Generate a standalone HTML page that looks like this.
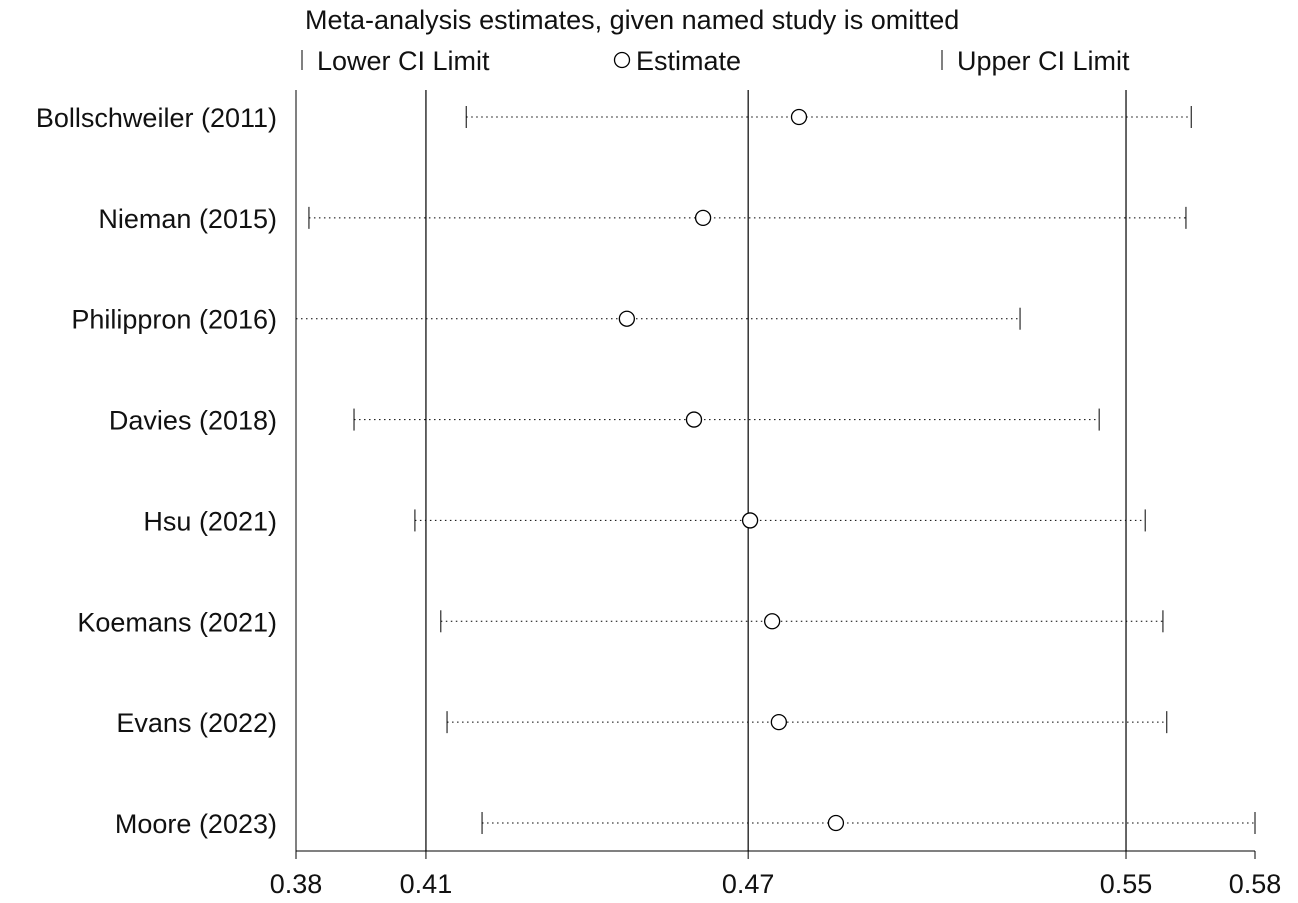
<!DOCTYPE html>
<html><head><meta charset="utf-8"><style>
body{margin:0;background:#fff}
svg text{font-family:"Liberation Sans",Arial,sans-serif;fill:#111}
</style></head><body>
<svg id="chart" width="1298" height="898" xmlns="http://www.w3.org/2000/svg">
<text x="305" y="29" font-size="27">Meta-analysis estimates, given named study is omitted</text>
<g>
<line x1="302" y1="50" x2="302" y2="70" stroke="#000" stroke-width="1"/>
<text x="317" y="70" font-size="27">Lower CI Limit</text>
<circle cx="622" cy="60" r="7.5" fill="none" stroke="#000" stroke-width="1.3"/>
<text x="636" y="70" font-size="27">Estimate</text>
<line x1="942" y1="50" x2="942" y2="70" stroke="#000" stroke-width="1"/>
<text x="957" y="70" font-size="27">Upper CI Limit</text>
</g>
<g id="plot"></g>
</svg>
<script>
const studies=["Bollschweiler (2011)","Nieman (2015)","Philippron (2016)","Davies (2018)","Hsu (2021)","Koemans (2021)","Evans (2022)","Moore (2023)"];
const lower=[0.4155,0.3827,0.3800,0.3921,0.4048,0.4102,0.4115,0.4188];
const estimate=[0.4849,0.4649,0.4490,0.4630,0.4747,0.4793,0.4807,0.4926];
const upper=[0.5667,0.5656,0.5310,0.5475,0.5571,0.5608,0.5616,0.5800];
const tickValues=[0.3800,0.4071,0.4743,0.5531,0.5800];
const tickLabels=["0.38","0.41","0.47","0.55","0.58"];
const refLines=[0.4071,0.4743,0.5531];
const NS="http://www.w3.org/2000/svg";
const g=document.getElementById('plot');
const xMin=0.38,xMax=0.58,px0=296,px1=1255;
function x(v){return px0+(v-xMin)/(xMax-xMin)*(px1-px0);}
function y(i){return 117+i*(823-117)/(studies.length-1);}
function mk(tag,attrs){const e=document.createElementNS(NS,tag);for(const k in attrs)e.setAttribute(k,attrs[k]);g.appendChild(e);return e;}
let e;
e=mk('line',{x1:px0,y1:90,x2:px0,y2:851,stroke:'#000','stroke-width':1});


e=mk('line',{x1:px0,y1:851,x2:px1,y2:851,stroke:'#000','stroke-width':1});


refLines.forEach((v,i)=>{
 e=mk('line',{x1:x(v),y1:90,x2:x(v),y2:851,stroke:'#000','stroke-width':1.2});
 
 
});
tickValues.forEach((v,i)=>{
 e=mk('line',{x1:x(v),y1:851,x2:x(v),y2:859,stroke:'#000','stroke-width':1});
 
 
 e=mk('text',{x:x(v),y:893,'font-size':27,'text-anchor':'middle'});
 e.textContent=tickLabels[i];
 
 
});
studies.forEach((s,i)=>{
 const yy=y(i);
 e=mk('text',{x:277,y:yy+10,'font-size':27,'text-anchor':'end'});
 e.textContent=s;
 
 
 e=mk('line',{x1:x(lower[i]),y1:yy,x2:x(upper[i]),y2:yy,stroke:'#000','stroke-width':1,'stroke-dasharray':'1.5,3.5'});
 
 
 e=mk('line',{x1:x(lower[i]),y1:yy-11,x2:x(lower[i]),y2:yy+11,stroke:'#000','stroke-width':1});
 
 
 e=mk('line',{x1:x(upper[i]),y1:yy-11,x2:x(upper[i]),y2:yy+11,stroke:'#000','stroke-width':1});
 
 
 e=mk('circle',{cx:x(estimate[i]),cy:yy,r:7.5,fill:'#fff',stroke:'#000','stroke-width':1.3});
 
 
});
</script>
</body></html>
